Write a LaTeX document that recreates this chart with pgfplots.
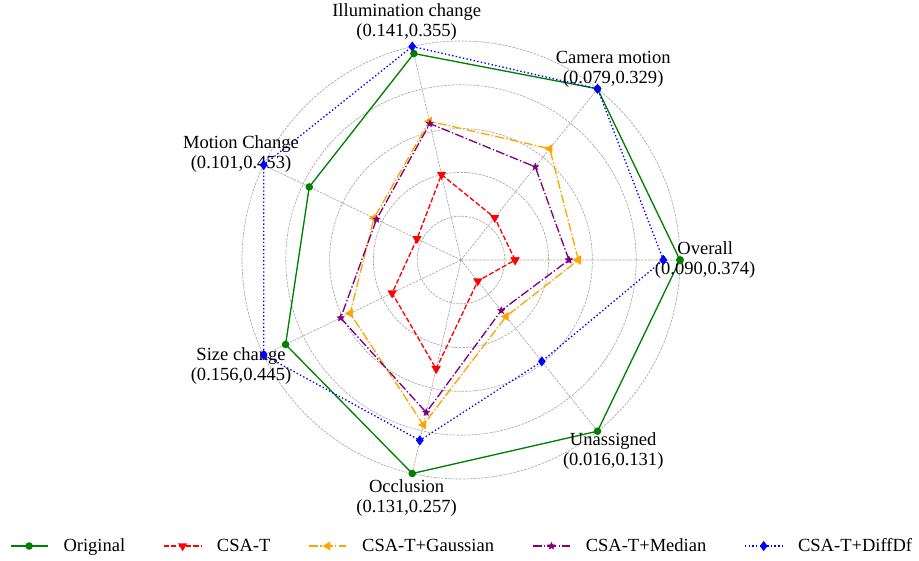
\documentclass[border=0pt]{standalone}
\usepackage{fontspec}
\setmainfont{Liberation Serif}
\usepackage{pgfplots}
\pgfplotsset{compat=1.18}
\usepgfplotslibrary{polar}
\definecolor{mgreen}{HTML}{008000}
\definecolor{mred}{HTML}{FF0000}
\definecolor{morange}{HTML}{FFA500}
\definecolor{mpurple}{HTML}{800080}
\definecolor{mblue}{HTML}{0000FF}
\definecolor{gridgray}{HTML}{A8A8A8}
\pgfdeclareplotmark{fstar}{%
  \pgfpathmoveto{\pgfpointpolar{90}{\pgfplotmarksize}}%
  \pgfpathlineto{\pgfpointpolar{126}{0.45\pgfplotmarksize}}%
  \pgfpathlineto{\pgfpointpolar{162}{\pgfplotmarksize}}%
  \pgfpathlineto{\pgfpointpolar{198}{0.45\pgfplotmarksize}}%
  \pgfpathlineto{\pgfpointpolar{234}{\pgfplotmarksize}}%
  \pgfpathlineto{\pgfpointpolar{270}{0.45\pgfplotmarksize}}%
  \pgfpathlineto{\pgfpointpolar{306}{\pgfplotmarksize}}%
  \pgfpathlineto{\pgfpointpolar{342}{0.45\pgfplotmarksize}}%
  \pgfpathlineto{\pgfpointpolar{18}{\pgfplotmarksize}}%
  \pgfpathlineto{\pgfpointpolar{54}{0.45\pgfplotmarksize}}%
  \pgfpathclose\pgfusepathqfillstroke}

\pgfplotstableread{
a r
0 1.0
51.4286 1.0
102.857 0.967
154.286 0.769
205.714 0.889
257.143 1.0
308.571 1.0
360 1.0
}\original
\pgfplotstableread{
a r
0 0.247
51.4286 0.247
102.857 0.400
154.286 0.223
205.714 0.349
257.143 0.510
308.571 0.123
360 0.247
}\csat
\pgfplotstableread{
a r
0 0.536
51.4286 0.650
102.857 0.650
154.286 0.441
205.714 0.562
257.143 0.772
308.571 0.330
360 0.536
}\gauss
\pgfplotstableread{
a r
0 0.493
51.4286 0.544
102.857 0.639
154.286 0.428
205.714 0.610
257.143 0.714
308.571 0.295
360 0.493
}\median
\pgfplotstableread{
a r
0 0.924
51.4286 1.0
102.857 1.0
154.286 1.0
205.714 1.0
257.143 0.845
308.571 0.592
360 0.924
}\diffdf

\begin{document}
\begin{tikzpicture}[x=1pt,y=1pt]
\path[use as bounding box] (-345.75,-225) rectangle (343.5,195);
\begin{polaraxis}[
  at={(0,0)}, anchor=center,
  scale only axis, width=328.5pt, height=328.5pt,
  clip=false,
  xmin=0, xmax=360, ymin=0, ymax=1,
  xtick={0,51.4286,102.857,154.286,205.714,257.143,308.571},
  ytick={0.2,0.4,0.6,0.8,1.0},
  xticklabels={}, yticklabels={},
  major tick length=0pt,
  tick style={draw=none},
  axis line style={draw=none},
  grid=major,
  major grid style={color=gridgray, line width=0.5pt, dash pattern=on 1.9pt off 0.85pt},
  font=\fontsize{13.9pt}{15pt}\selectfont,
  every axis plot/.append style={line width=1pt},
  legend columns=5,
  legend style={at={(0.5,-0.153)}, anchor=center, draw=none, fill=none,
    inner sep=0pt, outer sep=0pt,
    font=\fontsize{13.9pt}{15pt}\selectfont,
    nodes={inner sep=0pt, anchor=west},
    /tikz/every odd column/.append style={column sep=11.25pt},
    /tikz/every even column/.append style={column sep=28.5pt}},
  legend image code/.code={\draw[mark repeat=2,mark phase=2] plot coordinates {(0pt,0pt) (14pt,0pt) (28pt,0pt)};},
]
\addplot[mgreen, solid, mark=*, mark size=2.3pt, mark options={solid}] table[x=a,y=r] {\original};
\addlegendentry{Original}
\addplot[mred, dash pattern=on 3.85pt off 1.67pt, mark=triangle*, mark size=3pt, mark options={solid, rotate=180}] table[x=a,y=r] {\csat};
\addlegendentry{CSA-T}
\addplot[morange, dash pattern=on 6.66pt off 1.67pt on 1.04pt off 1.67pt, mark=triangle*, mark size=3pt, mark options={solid, rotate=90}] table[x=a,y=r] {\gauss};
\addlegendentry{CSA-T+Gaussian}
\addplot[mpurple, dash pattern=on 6.66pt off 1.67pt on 1.04pt off 1.67pt, mark=fstar, mark size=2.8pt, mark options={solid, line width=0.3pt}] table[x=a,y=r] {\median};
\addlegendentry{CSA-T+Median}
\addplot[mblue, dash pattern=on 1.04pt off 1.72pt, mark=diamond*, mark size=3pt, mark options={solid}] table[x=a,y=r] {\diffdf};
\addlegendentry{CSA-T+DiffDf}
\node[align=center, inner sep=0pt] at (axis cs:0,1.115) {Overall\\(0.090,0.374)};
\node[align=center, inner sep=0pt] at (axis cs:51.4286,1.115) {Camera motion\\(0.079,0.329)};
\node[align=center, inner sep=0pt] at (axis cs:102.857,1.115) {Illumination change\\(0.141,0.355)};
\node[align=center, inner sep=0pt] at (axis cs:154.286,1.115) {Motion Change\\(0.101,0.453)};
\node[align=center, inner sep=0pt] at (axis cs:205.714,1.115) {Size change\\(0.156,0.445)};
\node[align=center, inner sep=0pt] at (axis cs:257.143,1.115) {Occlusion\\(0.131,0.257)};
\node[align=center, inner sep=0pt] at (axis cs:308.571,1.115) {Unassigned\\(0.016,0.131)};
\end{polaraxis}
\end{tikzpicture}
\end{document}
